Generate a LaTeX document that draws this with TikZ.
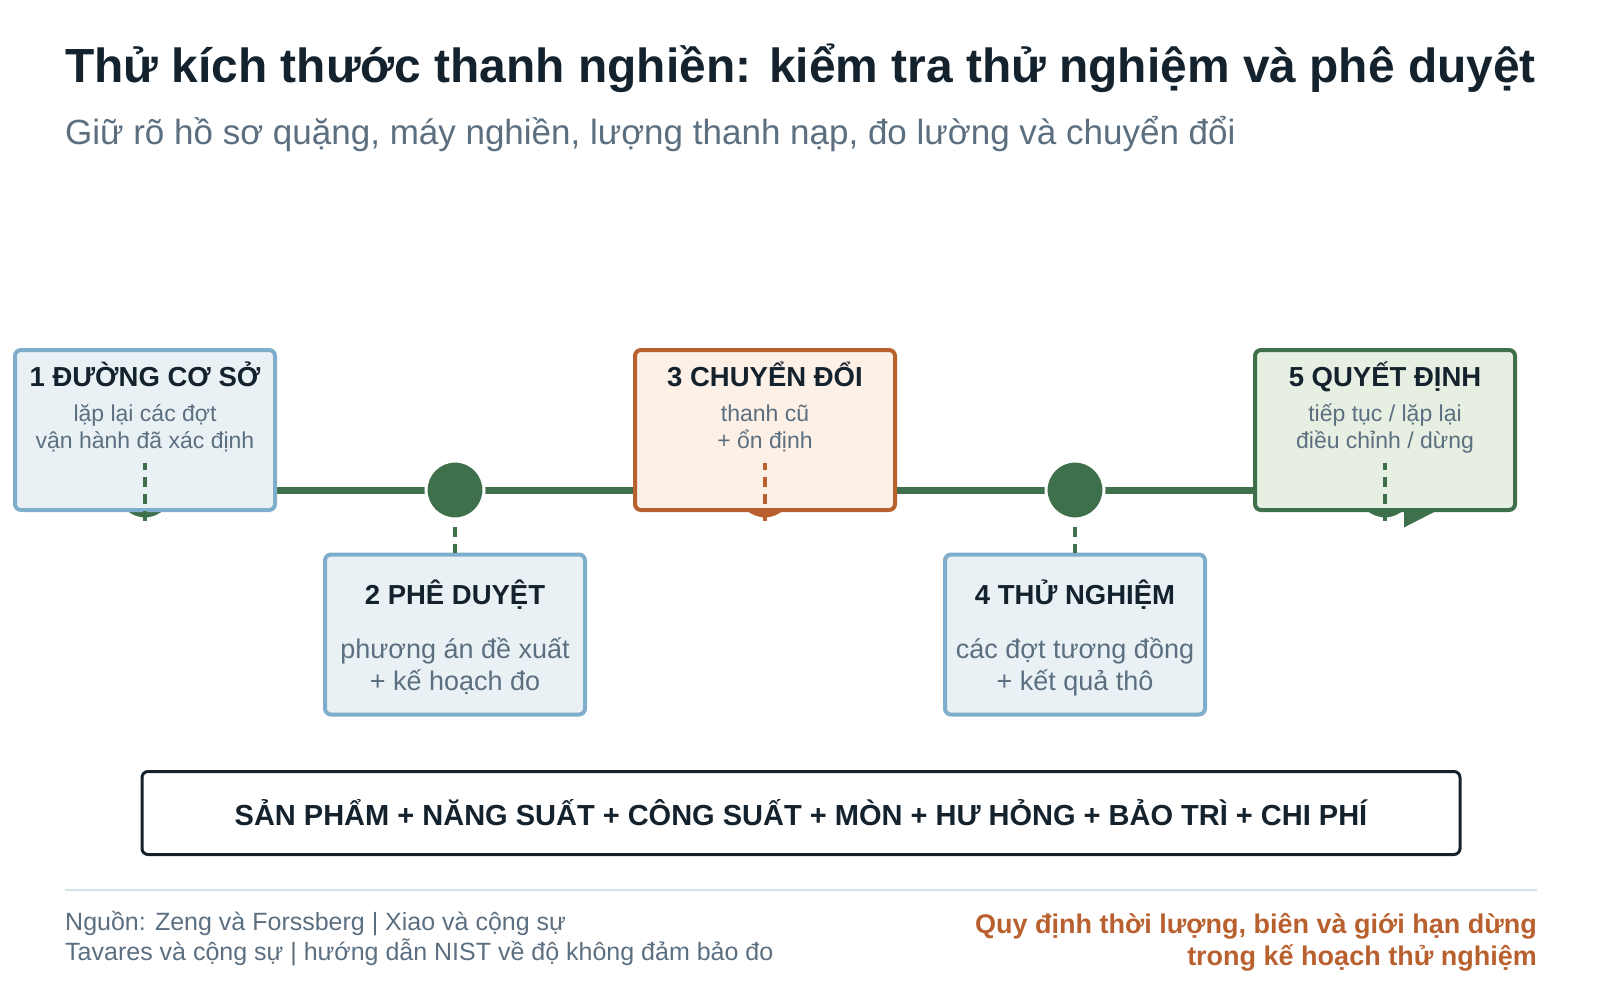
\documentclass[tikz,border=0pt]{standalone}
\usepackage{fontspec}
\setmainfont{Liberation Sans}
\definecolor{navy}{HTML}{14222E}
\definecolor{graytxt}{HTML}{5B6F80}
\definecolor{bluebd}{HTML}{7FAECC}
\definecolor{bluefill}{HTML}{EAF1F5}
\definecolor{orangebd}{HTML}{B9602F}
\definecolor{orangefill}{HTML}{FDF0E6}
\definecolor{greenbd}{HTML}{3E704C}
\definecolor{greenfill}{HTML}{E7EFE2}
\definecolor{rulec}{HTML}{D6E0E7}
\begin{document}
\begin{tikzpicture}[x=1pt,y=-1pt,
  card/.style={draw=bluebd, fill=bluefill, line width=4pt, rounded corners=6pt,
    minimum width=260pt, minimum height=160pt, inner sep=0pt},
  cardorange/.style={card, draw=orangebd, fill=orangefill},
  cardgreen/.style={card, draw=greenbd, fill=greenfill},
  dot/.style={circle, fill=greenbd, draw=white, line width=3pt, minimum size=58pt, inner sep=0pt},
  dotorange/.style={dot, fill=orangebd},
  cardtitle/.style={anchor=base, text=navy, font=\bfseries\fontsize{27.5}{32}\selectfont, inner sep=0pt},
  bodyup/.style={anchor=base, text=graytxt, align=center, font=\fontsize{23}{26.5}\selectfont, inner sep=0pt},
  bodydown/.style={anchor=base, text=graytxt, align=center, font=\fontsize{27}{31.5}\selectfont, inner sep=0pt},
  timeline/.style={draw=greenbd, line width=7pt},
  linkgreen/.style={draw=greenbd, line width=4pt, dash pattern=on 10pt off 7pt},
  linkorange/.style={linkgreen, draw=orangebd},
]
\useasboundingbox (0,0) rectangle (1600,1000);

% title
\node[anchor=base west, inner sep=0pt, text=navy, font=\bfseries\fontsize{47.9}{54}\selectfont] (title) at (65,83)
  {Thử kích thước thanh nghiền: kiểm tra thử nghiệm và phê duyệt};
\node[anchor=base west, inner sep=0pt, text=graytxt, font=\fontsize{35}{40}\selectfont] (subtitle) at (65,145)
  {Giữ rõ hồ sơ quặng, máy nghiền, lượng thanh nạp, đo lường và chuyển đổi};

% timeline
\coordinate (l0) at (277,490);
\coordinate (l1) at (1253,490);
\draw[timeline] (l0) -- (l1);

% dots
\node[dot] (c1) at (145,490) {};
\node[dot] (c2) at (455,490) {};
\node[dotorange] (c3) at (765,490) {};
\node[dot] (c4) at (1075,490) {};
\node[dot] (c5) at (1385,490) {};

% speech tail of card 5
\coordinate (tl) at (1403,510);
\coordinate (tr) at (1440,510);
\coordinate (tb) at (1403,529);
\filldraw[fill=greenbd, draw=white, line width=1.5pt] (tl) -- (tb) -- (tr) -- cycle;

% cards
\node[card] (b1) at (145,430) {};
\node[card] (b2) at (455,634.5) {};
\node[cardorange] (b3) at (765,430) {};
\node[card] (b4) at (1075,634.5) {};
\node[cardgreen] (b5) at (1385,430) {};

% card texts
\node[cardtitle] (t1) at (145,386) {1 ĐƯỜNG CƠ SỞ};
\node[bodyup] (d1) at (145,448) {lặp lại các đợt\\vận hành đã xác định};
\node[cardtitle] (t2) at (455,604) {2 PHÊ DUYỆT};
\node[bodydown] (d2) at (455,690) {phương án đề xuất\\+ kế hoạch đo};
\node[cardtitle] (t3) at (765,386) {3 CHUYỂN ĐỔI};
\node[bodyup] (d3) at (765,448) {thanh cũ\\+ ổn định};
\node[cardtitle] (t4) at (1075,604) {4 THỬ NGHIỆM};
\node[bodydown] (d4) at (1075,690) {các đợt tương đồng\\+ kết quả thô};
\node[cardtitle] (t5) at (1385,386) {5 QUYẾT ĐỊNH};
\node[bodyup] (d5) at (1385,448) {tiếp tục / lặp lại\\điều chỉnh / dừng};

% links
\coordinate (k1) at (145,463);
\coordinate (k3) at (765,463);
\coordinate (k5) at (1385,463);
\draw[linkgreen] (c1.south) -- (k1);
\draw[linkorange] (c3.south) -- (k3);
\draw[linkgreen] (c5.south) -- (k5);
\draw[linkgreen] ([yshift=-6pt]c2.south) -- (b2.north);
\draw[linkgreen] ([yshift=-6pt]c4.south) -- (b4.north);

% summary
\node[draw=navy, line width=3pt, fill=white, rounded corners=6pt, minimum width=1318pt, minimum height=83pt,
  inner sep=0pt, text=navy, font=\bfseries\fontsize{29}{34}\selectfont] (sum) at (801,813)
  {SẢN PHẨM + NĂNG SUẤT + CÔNG SUẤT + MÒN + HƯ HỎNG + BẢO TRÌ + CHI PHÍ};

% footer
\coordinate (r0) at (65,890);
\coordinate (r1) at (1537,890);
\draw[rulec, line width=2.5pt] (r0) -- (r1);
\node[anchor=base west, inner sep=0pt, text=graytxt, align=left, font=\fontsize{25}{29.5}\selectfont] (src) at (65,960)
  {Nguồn: Zeng và Forssberg | Xiao và cộng sự\\Tavares và cộng sự | hướng dẫn NIST về độ không đảm bảo đo};
\node[anchor=base east, inner sep=0pt, text=orangebd, align=right, font=\bfseries\fontsize{27}{31.5}\selectfont] (note) at (1537,965)
  {Quy định thời lượng, biên và giới hạn dừng\\trong kế hoạch thử nghiệm};
\end{tikzpicture}
\end{document}
